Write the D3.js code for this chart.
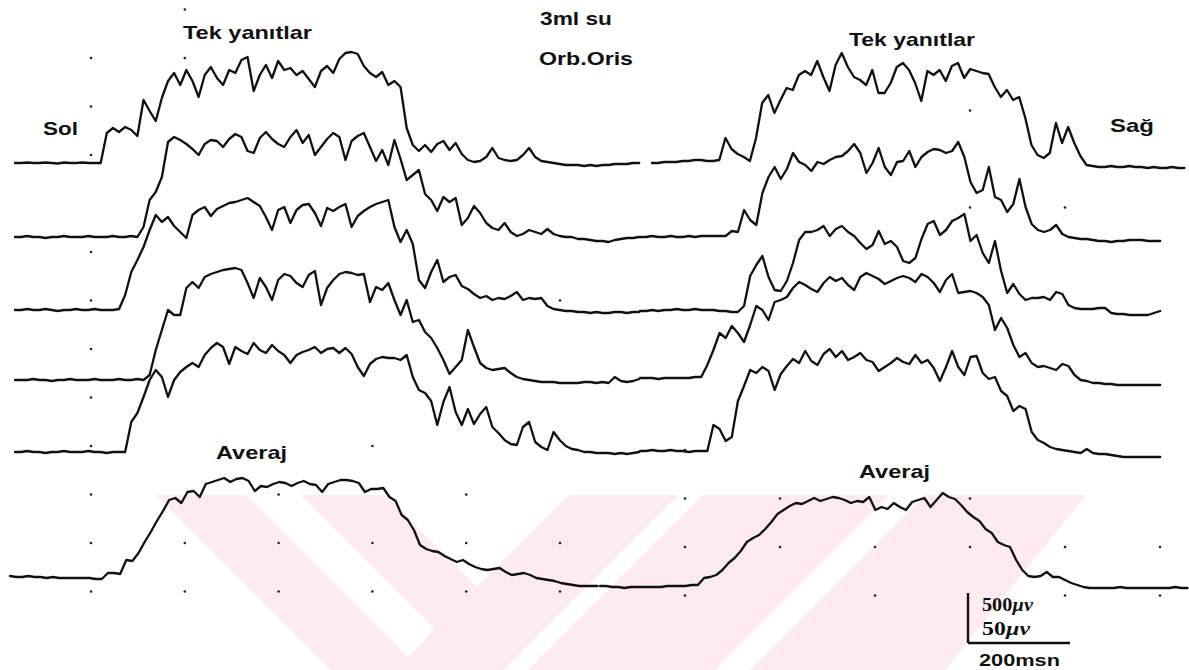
<!DOCTYPE html>
<html>
<head>
<meta charset="utf-8">
<script src="https://cdn.jsdelivr.net/npm/d3@7"></script>
<style>
  html, body { margin: 0; padding: 0; background: #ffffff; }
  svg { display: block; }
</style>
</head>
<body>
<svg id="chart" width="1189" height="670"></svg>
<script>
// Sampling interval of every recorded trace (ms)
const SAMPLE_MS = 12;

// Single responses, left side (Sol), amplitude in µV
const solResponse1 = [0,0,5,0,0,5,0,-5,5,0,0,5,0,0,0,
  300,350,310,360,330,270,
  630,520,420,650,820,900,780,930,820,660,
  880,960,850,780,930,900,1030,1060,720,880,
  980,850,1020,930,950,880,920,840,760,920,
  970,900,1040,1100,1110,1090,970,900,860,910,
  780,820,760,350,180,120,180,110,190,220,
  130,200,90,30,10,20,60,150,50,30,
  20,30,80,150,60,20,10,0,-10,-20,
  -20,-20,-30,-20,-30,-20,-20,-10,-10,-10,0,0];
const solResponse2 = [0,0,10,0,0,-10,0,0,10,0,0,0,10,0,0,0,10,0,0,10,0,
  100,370,450,600,950,1000,970,930,880,820,
  930,970,960,900,980,1030,1000,860,840,990,
  1050,980,930,900,1000,1070,940,1020,820,900,
  980,1040,1000,770,960,1010,1040,900,760,870,
  720,970,780,570,620,670,430,370,260,400,
  350,390,120,190,310,240,140,90,70,140,
  50,10,30,70,50,30,80,30,10,0,
  0,-20,-20,-30,-40,-40,-50,-30,-20,-10,-10,0];
const solResponse3 = [0,0,10,0,0,10,0,-10,0,0,10,0,0,10,0,0,0,10,
  150,380,500,
  630,800,950,880,930,840,780,720,950,1000,
  1030,940,1010,1040,1070,1080,1100,1120,1080,1040,
  930,800,1000,1030,870,1000,1050,1060,970,840,
  1020,990,1030,1060,830,940,990,1030,1060,1080,
  1100,830,680,800,660,300,220,380,500,280,
  330,350,240,210,160,120,140,100,120,110,
  140,180,100,120,110,120,40,10,0,-10,
  -10,-20,-20,-30,-20,-30,-30,-20,-20,-30,-20,-20];
const solResponse4 = [0,0,0,10,0,0,-10,0,0,10,0,0,0,10,0,0,0,10,0,0,10,0,
  50,300,500,700,650,650,920,980,920,
  1030,1060,1080,1100,1110,1120,1100,970,820,1020,
  930,800,1000,1060,1040,970,930,1050,1090,750,
  920,1000,1060,1080,1070,1050,1060,780,930,900,
  970,800,650,800,580,600,480,420,320,200,
  60,130,200,500,330,170,120,100,110,120,
  70,30,10,0,-10,-20,-20,-20,-30,-30,
  -30,-30,-20,-20,-30,-20,-30,30,-10,-20,-10,10];
const solResponse5 = [0,0,10,0,0,-10,0,0,10,0,0,0,10,0,0,-10,0,0,0,
  300,390,
  550,720,820,750,550,720,800,850,890,850,
  970,1040,1090,1050,880,1050,1010,980,1090,1020,
  990,1070,1010,970,890,970,1000,1020,1050,990,
  1030,1040,990,1040,980,850,760,880,930,950,
  940,940,920,970,750,620,590,510,270,500,
  650,400,270,430,280,380,450,250,190,120,
  80,70,250,300,100,50,20,200,120,60,
  30,20,0,0,-10,-10,-10,-20,-10,-20,-10,0];

// Single responses, right side (Sağ), amplitude in µV
const sagResponse1 = [0,0,10,10,10,20,20,30,30,20,20,
  30,250,140,90,60,20,250,600,680,500,
  630,750,730,880,920,880,1020,860,720,980,
  1100,960,860,830,780,930,700,700,800,960,
  1000,930,800,620,920,880,930,820,970,1000,
  850,940,920,900,890,760,660,730,630,660,
  450,180,80,50,100,400,200,360,200,70,
  -20,-30,-40,-40,-30,-40,-40,-30,-40,-40,
  -50,-40,-50,-50,-40,-50,-50];
const sagResponse2 = [0,0,10,0,0,10,0,0,10,0,10,10,10,10,10,
  60,50,270,170,120,440,600,700,580,680,
  840,750,720,660,750,730,770,800,810,860,
  930,840,640,740,890,700,620,750,760,860,
  700,800,850,880,870,840,860,950,800,550,
  440,470,700,400,370,250,330,580,300,130,
  70,50,70,120,30,0,-10,-20,-20,-30,
  -40,-40,-50,-40,-40,-30,-30,-30,-40,-40,-40];
const sagResponse3 = [0,0,10,0,10,10,20,10,10,20,10,10,10,0,0,-10,-10,
  50,350,460,550,340,210,200,300,480,710,
  790,790,810,850,750,820,850,790,750,680,
  620,660,800,670,700,640,500,480,530,720,
  870,900,760,810,900,930,970,700,760,580,
  480,700,400,180,270,170,110,130,130,140,
  110,190,170,60,30,20,20,20,30,30,
  -20,-30,-30,-40,-40,-40,-40,-20,0];
const sagResponse4 = [0,0,0,-10,0,0,0,0,0,10,10,
  130,280,450,400,520,450,360,530,720,680,
  580,760,780,810,900,960,930,890,860,950,
  1010,970,1000,930,880,1010,1050,1020,990,940,
  970,1000,1020,1000,960,1040,1010,950,860,980,
  1040,850,860,870,850,810,730,480,600,500,
  330,210,250,150,110,120,100,80,140,120,
  30,-20,-30,-50,-50,-60,-60,-70,-70,-70,
  -70,-70,-70,-70,-70];
const sagResponse5 = [0,0,10,0,0,10,0,0,-10,0,0,0,
  260,220,100,140,500,650,810,780,840,800,
  610,770,850,920,880,1000,900,860,970,1020,
  940,1000,910,940,980,910,890,800,840,880,
  930,890,870,960,880,910,830,700,840,1000,
  840,760,940,950,780,720,740,600,550,400,
  450,420,190,110,80,40,20,10,0,-10,
  -20,20,-20,-30,-30,-40,-50,-60,-60,-60,
  -60,-60,-60,-60];

// Averaged responses (Averaj), amplitude in µV
const solAverage = [1,0,0,1,0,0,-1,0,-1,-1,-1,-1,-1,-1,-2,-2,
  4,4,3,17,16,24,35,45,56,66,
  77,79,74,85,86,80,93,95,97,99,
  95,98,99,96,86,91,90,93,95,94,
  91,94,96,93,92,85,93,95,97,97,
  96,94,85,88,88,89,80,76,62,57,
  47,32,28,26,25,21,18,15,17,13,
  10,8,7,8,9,5,2,3,4,2,
  -1,-2,-3,-4,-6,-7,-8,-9,-9,-9,-9];
const sagAverage = [1,1,0,0,-1,0,0,0,0,0,0,1,1,1,1,2,2,
  9,10,12,17,24,29,36,45,49,52,
  58,65,73,77,81,84,83,86,89,86,
  88,90,89,87,84,86,85,90,77,80,
  78,84,80,77,85,87,89,80,87,94,
  90,88,82,75,70,66,58,54,45,42,
  40,27,17,11,10,11,15,10,10,7,
  4,2,0,-1,-1,-1,-1,-1,0,-1,
  -1,-1,-1,-1,-1,-1,-1,0,-1,-1];

// Calibration bar values
const barTimeMs = 200;
const barSingleUv = 500;
const barAverageUv = 50;

// Graticule dots, [column, row]
const solGridDots = [[1,-1],[0,0],[1,0],[0,1],[0,2],[0,4],[0,5],[0,6],[0,7],[0,8],[0,9],[0,10],[0,11],
  [1,10],[1,11],[2,9],[2,10],[2,11],[3,8],[3,10],[3,11],[4,9],[4,10],[4,11],[5,5],[5,10],[5,11]];
const sagGridDots = [[3,1],[3,3],[4,3],[0,8],[0,9],[0,10],[0,11],[1,9],[1,10],[2,10],[2,11],
  [3,9],[3,10],[4,10],[4,11],[5,10],[5,11]];

const svg = d3.select("#chart");

// ---- scales ----
const xTime = d3.scaleLinear().domain([0, barTimeMs]).range([0, 102]);
const ySingle = d3.scaleLinear().domain([0, barSingleUv]).range([0, -50]);
const yAverage = d3.scaleLinear().domain([0, barAverageUv]).range([0, -50]);

// ---- background watermark emblem ----
const wm = svg.append("g").attr("class", "watermark");
const pink = "#fdebef";
wm.append("polygon")
  .attr("points", [[156,495],[1086,495],[945,670],[331,670]].join(" "))
  .attr("fill", pink);
const gaps = [
  [[246,495],[301,495],[435,629],[408,657]],
  [[385,495],[569,495],[477,587]],
  [[678,495],[703,495],[528,670],[503,670]],
  [[890,495],[925,495],[750,670],[715,670]]
];
gaps.forEach(p => wm.append("polygon").attr("points", p.join(" ")).attr("fill", "#ffffff"));

// ---- graticule dots ----
const gridSol = { x: d3.scaleLinear().domain([0, 1]).range([91, 184.8]), y: d3.scaleLinear().domain([0, 1]).range([58, 106.5]) };
const gridSag = { x: d3.scaleLinear().domain([0, 1]).range([685, 780]), y: d3.scaleLinear().domain([0, 1]).range([62, 110.5]) };
const dots = svg.append("g").attr("fill", "#222");
solGridDots.forEach(([c, r]) => dots.append("circle").attr("cx", gridSol.x(c)).attr("cy", gridSol.y(r)).attr("r", 1.3));
sagGridDots.forEach(([c, r]) => dots.append("circle").attr("cx", gridSag.x(c)).attr("cy", gridSag.y(r)).attr("r", 1.3));

// ---- traces ----
const traces = [
  { values: solResponse1, x0: 15,  y0: 163, y: ySingle },
  { values: solResponse2, x0: 15,  y0: 237, y: ySingle },
  { values: solResponse3, x0: 15,  y0: 310, y: ySingle },
  { values: solResponse4, x0: 15,  y0: 380, y: ySingle },
  { values: solResponse5, x0: 15,  y0: 452, y: ySingle },
  { values: sagResponse1, x0: 652, y0: 163, y: ySingle },
  { values: sagResponse2, x0: 640, y0: 237, y: ySingle },
  { values: sagResponse3, x0: 640, y0: 311, y: ySingle },
  { values: sagResponse4, x0: 640, y0: 378, y: ySingle },
  { values: sagResponse5, x0: 640, y0: 451, y: ySingle },
  { values: solAverage,   x0: 10,  y0: 577, y: yAverage },
  { values: sagAverage,   x0: 600, y0: 587, y: yAverage }
];

const tg = svg.append("g")
  .attr("fill", "none")
  .attr("stroke", "#111")
  .attr("stroke-width", 2.3)
  .attr("stroke-linejoin", "round")
  .attr("stroke-linecap", "round");

traces.forEach(t => {
  const line = d3.line()
    .x((d, i) => t.x0 + xTime(i * SAMPLE_MS))
    .y(d => t.y0 + t.y(d));
  tg.append("path").attr("d", line(t.values));
});

// ---- labels ----
const sans = "'Liberation Sans', Arial, Helvetica, sans-serif";
const serif = "'Liberation Serif', 'Times New Roman', serif";
const labels = [
  { text: "Tek yanıtlar", x: 183,  y: 39,  len: 129, size: 19 },
  { text: "3ml su",       x: 540,  y: 25,  len: 72,  size: 18 },
  { text: "Orb.Oris",     x: 539,  y: 65,  len: 94,  size: 18 },
  { text: "Tek yanıtlar", x: 849,  y: 46,  len: 126, size: 19 },
  { text: "Sol",          x: 43,   y: 135, len: 35,  size: 19 },
  { text: "Sağ",          x: 1110, y: 132, len: 44,  size: 19 },
  { text: "Averaj",       x: 216,  y: 459, len: 71,  size: 19 },
  { text: "Averaj",       x: 859,  y: 478, len: 71,  size: 19 }
];
svg.append("g").selectAll("text").data(labels).join("text")
  .attr("x", d => d.x).attr("y", d => d.y)
  .attr("font-family", sans).attr("font-weight", "bold")
  .attr("font-size", d => d.size)
  .attr("textLength", d => d.len).attr("lengthAdjust", "spacingAndGlyphs")
  .attr("fill", "#111")
  .text(d => d.text);

// ---- calibration bar ----
const barX = 968, barY = 643;
const bar = svg.append("g").attr("stroke", "#111").attr("stroke-width", 2.4).attr("fill", "none");
bar.append("line").attr("x1", barX).attr("y1", barY).attr("x2", barX).attr("y2", barY + ySingle(barSingleUv));
bar.append("line").attr("x1", barX).attr("y1", barY).attr("x2", barX + xTime(barTimeMs)).attr("y2", barY);

const calib = svg.append("g").attr("fill", "#111");
const t500 = calib.append("text").attr("x", 982).attr("y", 611)
  .attr("font-family", serif).attr("font-weight", "bold").attr("font-size", 18)
  .attr("textLength", 51).attr("lengthAdjust", "spacingAndGlyphs");
t500.append("tspan").text(barSingleUv);
t500.append("tspan").attr("font-style", "italic").text("µv");
const t50 = calib.append("text").attr("x", 982).attr("y", 635)
  .attr("font-family", serif).attr("font-weight", "bold").attr("font-size", 18)
  .attr("textLength", 48).attr("lengthAdjust", "spacingAndGlyphs");
t50.append("tspan").text(barAverageUv);
t50.append("tspan").attr("font-style", "italic").text("µv");
calib.append("text").attr("x", 979).attr("y", 666)
  .attr("font-family", sans).attr("font-weight", "bold").attr("font-size", 17)
  .attr("textLength", 81).attr("lengthAdjust", "spacingAndGlyphs")
  .text(barTimeMs + "msn");
</script>
</body>
</html>
